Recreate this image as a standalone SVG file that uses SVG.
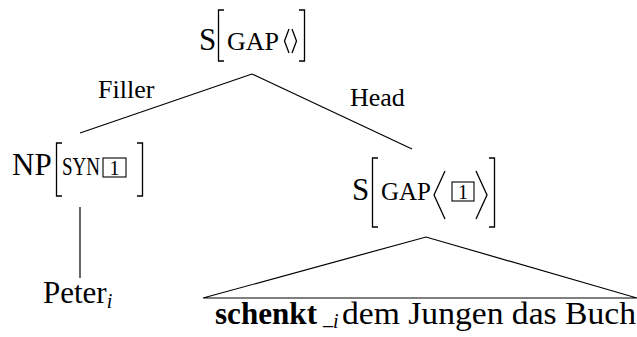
<svg xmlns="http://www.w3.org/2000/svg" width="637" height="337" viewBox="0 0 637 337">
<style>
text{font-family:"Liberation Serif","Times New Roman",serif;fill:#000}
.big{font-size:31px}
.sc{font-size:26px}
.lab{font-size:26px}
.num{font-size:20px}
.br{fill:none;stroke:#000;stroke-width:1.3}
.ln{fill:none;stroke:#000;stroke-width:1.2}
.box{fill:none;stroke:#000;stroke-width:1.1}
</style>
<rect width="637" height="337" fill="#fff"/>
<g id="connectors">
<line class="ln" x1="252" y1="74" x2="80" y2="133"/>
<line class="ln" x1="252" y1="74" x2="412" y2="149"/>
<line class="ln" x1="80" y1="207" x2="80" y2="278"/>
<path class="ln" d="M203,298 L426,237 L637,298 Z"/>
<text class="lab" x="98" y="98">Filler</text>
<text class="lab" x="350" y="106">Head</text>
</g>
<g id="root">
<text class="big" x="199" y="50">S</text>
<path class="br" d="M224,10 H218.5 V61 H224"/>
<text class="sc" x="227" y="50">GAP</text>
<path class="br" d="M289,29 L284.5,41 L289,53 M292,29 L296.5,41 L292,53"/>
<path class="br" d="M299,10 H304.5 V61 H299"/>
</g>
<g id="np">
<text class="big" x="12" y="175">NP</text>
<path class="br" d="M62,143 H56.5 V196 H62"/>
<text class="sc" transform="translate(62,175) scale(0.73,1)">SYN</text>
<rect class="box" x="103" y="158" width="23" height="19"/>
<text class="num" x="114.5" y="175" text-anchor="middle">1</text>
<path class="br" d="M137,143 H142.5 V196 H137"/>
</g>
<g id="s-head">
<text class="big" x="352" y="200">S</text>
<path class="br" d="M378,158 H372.5 V227 H378"/>
<text class="sc" transform="translate(381,200) scale(0.96,1)">GAP</text>
<path class="br" d="M445,171 L434,195 L445,219"/>
<rect class="box" x="452" y="182" width="22" height="19"/>
<text class="num" x="463" y="199" text-anchor="middle">1</text>
<path class="br" d="M476,171 L487,195 L476,219"/>
<path class="br" d="M489,158 H494.5 V227 H489"/>
</g>
<g id="peter">
<text class="big" x="43" y="303">Peter<tspan font-size="20" font-style="italic" dy="5">i</tspan></text>
</g>
<g id="sentence">
<text y="324" font-size="32"><tspan x="215" font-weight="bold" textLength="102" lengthAdjust="spacingAndGlyphs">schenkt</tspan><tspan x="323" font-size="20">_</tspan><tspan font-size="20" font-style="italic" dy="4">i</tspan><tspan x="342" dy="-4" textLength="294" lengthAdjust="spacingAndGlyphs">dem Jungen das Buch</tspan></text>
</g>
</svg>
